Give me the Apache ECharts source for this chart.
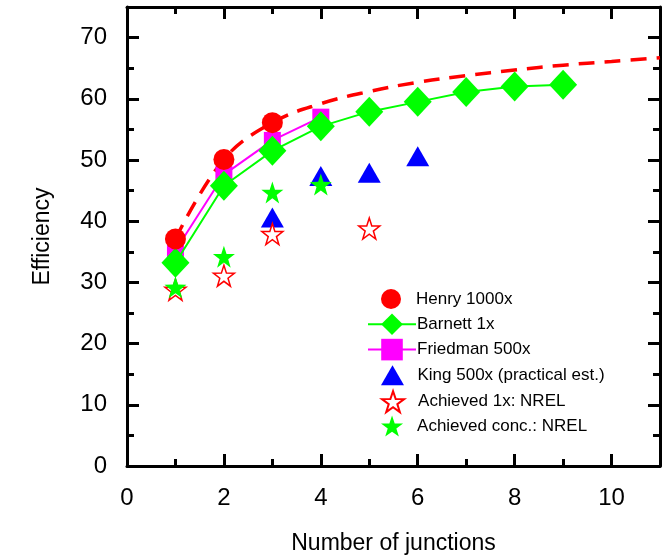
<!DOCTYPE html>
<html>
<head>
<meta charset="utf-8">
<script src="https://cdn.jsdelivr.net/npm/echarts@6/dist/echarts.min.js"></script>
<style>html,body{margin:0;padding:0;background:#fff}#c{width:666px;height:560px}</style>
</head>
<body>
<div id="c"></div>
<script>
// values
var henry = [[1, 37.1], [2, 50.1], [3, 56.1]];
var henryFit = [[1, 37.1], [2, 50.1], [3, 56.1], [4, 59.2], [5, 61.2], [6, 62.7], [7, 63.8], [8, 64.7], [9, 65.5], [10, 66.1], [11, 66.7]];
var barnett = [[1, 33.2], [2, 45.8], [3, 51.5], [4, 55.5], [5, 57.9], [6, 59.5], [7, 61.1], [8, 62.0], [9, 62.3]];
var friedman = [[1, 35.2], [2, 47.6], [3, 53.2], [4, 57.0]];
var king = [[3, 40.6], [4, 47.4], [5, 47.9], [6, 50.6]];
var ach1x = [[1, 28.8], [2, 31.1], [3, 37.9], [5, 38.8]];
var achConc = [[1, 29.2], [2, 34.2], [3, 44.7], [4, 46.0]];
var names = ['Henry 1000x', 'Barnett 1x', 'Friedman 500x', 'King 500x (practical est.)', 'Achieved 1x: NREL', 'Achieved conc.: NREL'];

var font = 'Liberation Sans, Arial, sans-serif';

// 5-point star in a 0..100 box
function starPts() {
    var p = [];
    for (var i = 0; i < 10; i++) {
        var r = i % 2 ? 19.5 : 50;
        var a = -Math.PI / 2 + i * Math.PI / 5;
        p.push([50 + r * Math.cos(a), 54 + r * Math.sin(a)]);
    }
    return p;
}
function poly(pts) {
    var d = '';
    pts.forEach(function (q, i) {
        d += (i ? 'L' : 'M') + q[0].toFixed(2) + ',' + q[1].toFixed(2) + ' ';
    });
    return 'path://' + d + 'Z';
}
var star = poly(starPts());
var tri = 'path://M50,0 L100,87 L0,87 Z';

// legend icon per entry (null = line series icon) and icon height
var legIcons = ['circle', null, null, tri, star, star];
var legHeights = [20, 27, 27, 20, 21, 21];

var axisLine = {show: true, onZero: false, lineStyle: {color: '#000', width: 3}};
var tickStyle = {color: '#000', width: 3};

var option = {
    animation: false,
    backgroundColor: '#fff',
    grid: {left: 127, right: 6, top: 7, bottom: 94, containLabel: false},
    legend: names.map(function (n, i) {
        var h = legHeights[i];
        var item = {name: n};
        var isIcon = !!legIcons[i];
        if (isIcon) item.icon = legIcons[i];
        return {
            orient: 'vertical',
            left: isIcon ? 376 : 362,
            top: 298 + i * 25.4 - h / 2 - 5 + (isIcon ? 1 : 3.5),
            itemWidth: 48,
            itemHeight: h,
            textStyle: {fontFamily: font, fontSize: 17, color: '#000', padding: [0, 0, 0, -4]},
            data: [item]
        };
    }),
    xAxis: [{
        type: 'value', min: 0, max: 11, interval: 2,
        name: 'Number of junctions', nameLocation: 'middle', nameGap: 66,
        nameTextStyle: {fontFamily: font, fontSize: 23, color: '#000'},
        axisLine: axisLine,
        axisTick: {inside: true, length: 12, lineStyle: tickStyle},
        minorTick: {show: true, splitNumber: 2, length: 7, lineStyle: tickStyle},
        axisLabel: {fontFamily: font, fontSize: 24, color: '#000', margin: 20,
            formatter: function (v) { return v > 10 ? '' : v; }},
        splitLine: {show: false}
    }, {
        type: 'value', min: 0, max: 11, interval: 2, position: 'top',
        axisLine: axisLine,
        axisTick: {inside: true, length: 12, lineStyle: tickStyle},
        minorTick: {show: true, splitNumber: 2, length: 7, lineStyle: tickStyle},
        axisLabel: {show: false},
        splitLine: {show: false}
    }],
    yAxis: [{
        type: 'value', min: 0, max: 75, interval: 10,
        name: 'Efficiency', nameLocation: 'middle', nameGap: 73,
        nameTextStyle: {fontFamily: font, fontSize: 23, color: '#000'},
        axisLine: axisLine,
        axisTick: {inside: true, length: 12, lineStyle: tickStyle},
        minorTick: {show: true, splitNumber: 2, length: 7, lineStyle: tickStyle},
        axisLabel: {fontFamily: font, fontSize: 24, color: '#000', margin: 20,
            formatter: function (v) { return v > 70 ? '' : v; }},
        splitLine: {show: false}
    }, {
        type: 'value', min: 0, max: 75, interval: 10, position: 'right',
        axisLine: axisLine,
        axisTick: {inside: true, length: 12, lineStyle: tickStyle},
        minorTick: {show: true, splitNumber: 2, length: 7, lineStyle: tickStyle},
        axisLabel: {show: false},
        splitLine: {show: false}
    }],
    series: [{
        name: 'fit', type: 'line', data: henryFit, smooth: 0.4, symbol: 'none', z: 3,
        lineStyle: {color: '#ff0000', width: 3.5, type: [16, 10]}
    }, {
        name: names[2], type: 'line', data: friedman, symbol: 'rect', symbolSize: 17, z: 4,
        itemStyle: {color: '#ff00ff', opacity: 1}, lineStyle: {color: '#ff00ff', width: 2}
    }, {
        name: names[1], type: 'line', data: barnett, symbol: 'diamond', symbolSize: [28, 30], z: 5,
        itemStyle: {color: '#00ff00', opacity: 1}, lineStyle: {color: '#00ff00', width: 2}
    }, {
        name: names[0], type: 'scatter', data: henry, symbol: 'circle', symbolSize: 21, z: 6,
        itemStyle: {color: '#ff0000', opacity: 1}
    }, {
        name: names[3], type: 'scatter', data: king, symbol: tri, symbolSize: [23, 20], z: 5,
        itemStyle: {color: '#0000ff', opacity: 1}
    }, {
        name: names[4], type: 'scatter', data: ach1x, symbol: star, symbolSize: 21, z: 5,
        itemStyle: {color: '#ffffff', borderColor: '#ff0000', borderWidth: 1.5, opacity: 1}
    }, {
        name: names[5], type: 'scatter', data: achConc, symbol: star, symbolSize: 22, z: 6,
        itemStyle: {color: '#00ff00', opacity: 1}
    }]
};

var chart = echarts.init(document.getElementById('c'));
chart.setOption(option);
</script>
</body>
</html>
